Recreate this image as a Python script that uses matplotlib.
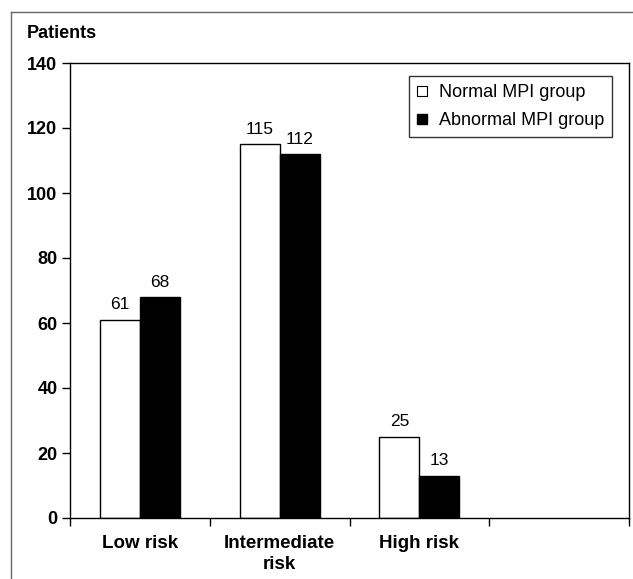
import matplotlib.pyplot as plt
import numpy as np
from matplotlib.lines import Line2D

plt.rcParams['font.family'] = ['Liberation Sans', 'DejaVu Sans']

categories = ['Low risk', 'Intermediate\nrisk', 'High risk']
normal = [61, 115, 25]
abnormal = [68, 112, 13]

fig = plt.figure(figsize=(6.33, 5.79), dpi=100)
ax = fig.add_axes([70 / 633, 61 / 579, 559 / 633, 455 / 579])

centers = np.arange(len(categories)) + 0.5
w = 0.286
ax.bar(centers - w, normal, width=w, align='edge', color='white',
       edgecolor='black', linewidth=1, label='Normal MPI group')
ax.bar(centers, abnormal, width=w, align='edge', color='black',
       edgecolor='black', linewidth=1, label='Abnormal MPI group')

for c, v in zip(centers, normal):
    ax.text(c - w / 2, v + 2.3, str(v), ha='center', va='bottom', fontsize=12.5)
for c, v in zip(centers, abnormal):
    ax.text(c + w / 2, v + 2.3, str(v), ha='center', va='bottom', fontsize=12.5)

ax.set_xlim(0, 4)
ax.set_ylim(0, 140)
ax.set_yticks(range(0, 141, 20))
ax.set_xticks(range(0, 5))
ax.set_xticklabels([])
for lab in ax.get_yticklabels():
    lab.set_fontweight('bold')
    lab.set_fontsize(13)
ax.tick_params(axis='both', direction='out', length=6, width=1, pad=3)

for c, name in zip(centers, categories):
    ax.text(c, -5.2, name, ha='center', va='top', fontsize=13.5,
            fontweight='bold', linespacing=1.3)

for s in ax.spines.values():
    s.set_linewidth(1)

fig.text(27 / 633, 1 - 34 / 579, 'Patients', fontsize=13, fontweight='bold',
         va='center', ha='left')

# outer frame lines (top and left)
fig.add_artist(Line2D([11 / 633, 1], [1 - 12 / 579, 1 - 12 / 579],
                      color='#666666', linewidth=1))
fig.add_artist(Line2D([11 / 633, 11 / 633], [0, 1 - 12 / 579],
                      color='#666666', linewidth=1))

h1 = Line2D([], [], marker='s', linestyle='none', markerfacecolor='white',
            markeredgecolor='black', markersize=7.5, markeredgewidth=0.8)
h2 = Line2D([], [], marker='s', linestyle='none', markerfacecolor='black',
            markeredgecolor='black', markersize=7.5)
leg = ax.legend([h1, h2], ['Normal MPI group', 'Abnormal MPI group'],
                loc='upper right', fontsize=13, frameon=True, fancybox=False,
                handlelength=0.6, handletextpad=0.6, borderpad=0.45,
                labelspacing=0.6, borderaxespad=0)
leg.set_bbox_to_anchor((612 / 633, 1 - 76 / 579), transform=fig.transFigure)
leg.get_frame().set_edgecolor('black')
leg.get_frame().set_linewidth(1)

fig.savefig('out.png', dpi=100)
